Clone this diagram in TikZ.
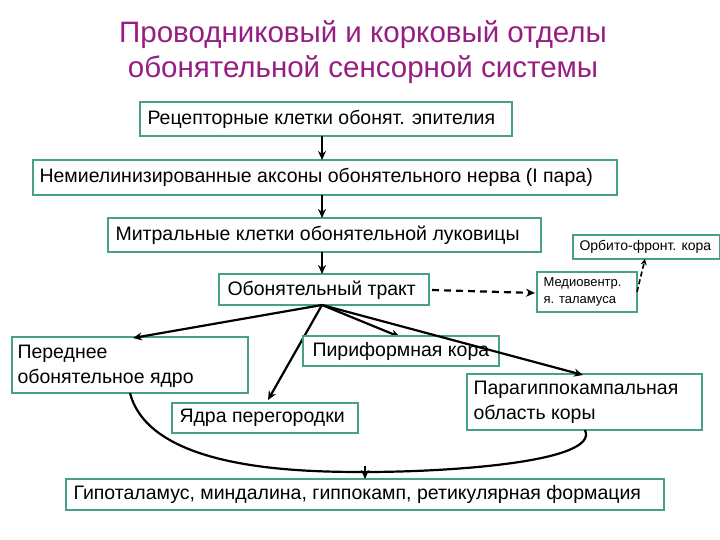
\documentclass[tikz,border=0pt]{standalone}
\usepackage{fontspec}
\setmainfont{Liberation Sans}
\usetikzlibrary{arrows.meta}
\definecolor{boxc}{RGB}{70,160,140}
\definecolor{titc}{RGB}{150,30,130}
\begin{document}
\begin{tikzpicture}[x=1pt,y=-1pt,
  bx/.style={draw=boxc,line width=1.1pt,fill=white},
  lab/.style={font=\fontsize{19.5}{23}\selectfont,anchor=west,align=left},
  arr/.style={-{Stealth[length=9pt,width=8pt]},line width=2.2pt}]
\useasboundingbox (0,0) rectangle (720,540);
\node[font=\fontsize{29.5}{35}\selectfont,text=titc,align=center] (title) at (363,52) {Проводниковый и корковый отделы\\обонятельной сенсорной системы};
% boxes
\draw[bx] (140,102) rectangle (512,136); \node[lab] (r) at (144,119) {Рецепторные клетки обонят. эпителия};
\draw[bx] (33,160) rectangle (617,195); \node[lab] (n) at (36,177.5) {Немиелинизированные аксоны обонятельного нерва (I пара)};
\draw[bx] (108,218) rectangle (541,252); \node[lab] (m) at (112,235) {Митральные клетки обонятельной луковицы};
\draw[bx] (573,235) rectangle (720,259); \node[lab,font=\fontsize{14}{16}\selectfont] (o) at (576,247) {Орбито-фронт. кора};
\draw[bx] (537,272) rectangle (637,312); \node[lab,font=\fontsize{13}{17}\selectfont] (me) at (540,292) {Медиовентр.\\я. таламуса};
\draw[bx] (219,274) rectangle (429,305); \node[lab] (t) at (224,290) {Обонятельный тракт};
\draw[bx] (12,337) rectangle (248,393); \node[lab,font=\fontsize{19.5}{25}\selectfont] (p) at (14,366) {Переднее\\обонятельное ядро};
\draw[bx] (172,403) rectangle (358,433); \node[lab] (ya) at (176,418) {Ядра перегородки};
\draw[bx] (467,374) rectangle (702,430); \node[lab,font=\fontsize{19.5}{25}\selectfont] (pg) at (470,402) {Парагиппокампальная\\область коры};
\draw[bx] (66,479) rectangle (664,510); \node[lab] (g) at (70,494.5) {Гипоталамус, миндалина, гиппокамп, ретикулярная формация};
% connectors
\coordinate (tb) at (322,305);
\draw[arr] (322,136) -- (322,160);
\draw[arr] (322,195) -- (322,218);
\draw[arr] (322,252) -- (322,274);
\draw[arr] (tb) -- (133,338);
\draw[arr] (tb) -- (268,400);
\draw[arr] (tb) -- (400,337);
\draw[bx] (303,336) rectangle (499,366); \node[lab] (pi) at (309,351) {Пириформная кора};
\draw[arr] (tb) -- (583,375);
\draw[arr,dash pattern=on 7pt off 5pt] (432,290) -- (535,293);
\draw[-{Stealth[length=6pt,width=6pt]},line width=1.6pt,dash pattern=on 5pt off 3pt] (637,292) -- (645,259);
\draw[line width=2.2pt] (130,393) .. controls (150,470) and (300,472) .. (365,472) .. controls (450,472) and (600,462) .. (585,430);
\draw[arr] (365,466) -- (365,479);
\end{tikzpicture}
\end{document}
